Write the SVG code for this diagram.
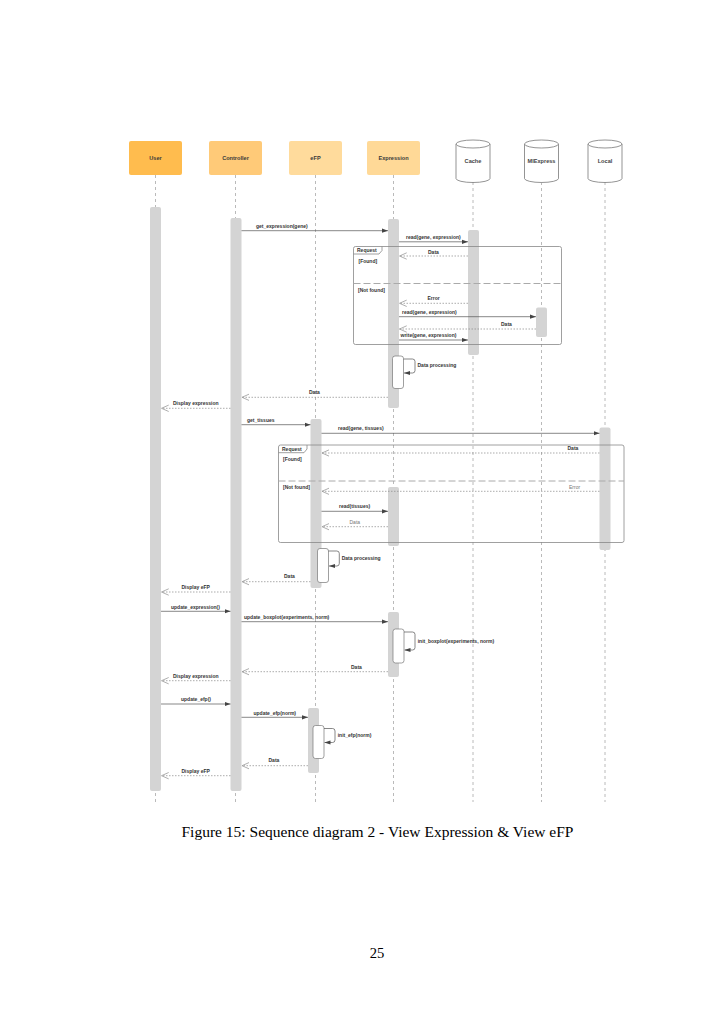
<svg xmlns="http://www.w3.org/2000/svg" width="724" height="1024" viewBox="0 0 724 1024">
<style>
.hdr{stroke:none}
.ht{font-family:"Liberation Sans",Arial,sans-serif;font-size:5.6px;font-weight:bold;fill:#3a3a3a;text-anchor:middle}
.ct{font-family:"Liberation Sans",Arial,sans-serif;font-size:5.6px;font-weight:bold;fill:#444;text-anchor:middle}
.life{stroke:#a8a8a8;stroke-width:0.8;stroke-dasharray:3,3;fill:none}
.bar{fill:#d4d4d4;stroke:none}
.self{fill:#fff;stroke:#777;stroke-width:0.7}
.msg{stroke:#555;stroke-width:0.7;fill:none;marker-end:url(#ah)}
.ret{stroke:#888;stroke-width:0.7;stroke-dasharray:1.5,1.5;fill:none;marker-end:url(#oh)}
.lbl{font-family:"Liberation Sans",Arial,sans-serif;font-size:5px;font-weight:bold;fill:#333}
.lg{font-family:"Liberation Sans",Arial,sans-serif;font-size:5px;fill:#777}
.frame{fill:none;stroke:#888;stroke-width:0.8}
.sep{stroke:#aaa;stroke-width:1;stroke-dasharray:7,3;fill:none}
.cyl{fill:#fff;stroke:#666;stroke-width:0.7}
.cap{font-family:"Liberation Serif","Times New Roman",serif;font-size:14.6px;fill:#000}
</style>
<defs>
<marker id="ah" viewBox="0 0 10 10" refX="10" refY="5" markerWidth="6" markerHeight="6" markerUnits="userSpaceOnUse" orient="auto">
<path d="M0,1.5 L10,5 L0,8.5 Z" fill="#444"/>
</marker>
<marker id="oh" viewBox="0 0 10 10" refX="9" refY="5" markerWidth="8" markerHeight="8" markerUnits="userSpaceOnUse" orient="auto">
<path d="M0,1 L9,5 L0,9" fill="none" stroke="#999" stroke-width="1"/>
</marker>
</defs>
<rect width="724" height="1024" fill="#fff"/>

<g id="lifelines">
<line class="life" x1="155.5" y1="175" x2="155.5" y2="802"/>
<line class="life" x1="235.5" y1="175" x2="235.5" y2="802"/>
<line class="life" x1="315.5" y1="175" x2="315.5" y2="802"/>
<line class="life" x1="393.5" y1="175" x2="393.5" y2="802"/>
<line class="life" x1="473" y1="182" x2="473" y2="802"/>
<line class="life" x1="541.5" y1="182" x2="541.5" y2="802"/>
<line class="life" x1="605" y1="182" x2="605" y2="802"/>
</g>

<g id="user">
<rect class="hdr" x="129" y="141" width="53" height="34" rx="2" fill="#ffbc4e"/>
<text class="ht" x="155.5" y="159.5">User</text>
<rect class="bar" x="150" y="207" width="11" height="584" rx="2"/>
</g>
<g id="controller">
<rect class="hdr" x="209" y="141" width="53" height="34" rx="2" fill="#ffca78"/>
<text class="ht" x="235.5" y="159.5">Controller</text>
<rect class="bar" x="230.5" y="218" width="11" height="573" rx="2"/>
</g>
<g id="efp">
<rect class="hdr" x="289" y="141" width="53" height="34" rx="2" fill="#ffdb9c"/>
<text class="ht" x="315.5" y="159.5">eFP</text>
<rect class="bar" x="310.5" y="419" width="11" height="169" rx="2"/>
<rect class="bar" x="308" y="708" width="11" height="65" rx="2"/>
</g>
<g id="expression">
<rect class="hdr" x="367" y="141" width="53" height="34" rx="2" fill="#ffd997"/>
<text class="ht" x="393.5" y="159.5">Expression</text>
<rect class="bar" x="388" y="219" width="11" height="189" rx="2"/>
<rect class="bar" x="388" y="487" width="11" height="59" rx="2"/>
<rect class="bar" x="388" y="612" width="11" height="65" rx="2"/>
</g>
<g id="cache">
<path class="cyl" d="M456,144 V178.5 A17,4 0 0 0 490,178.5 V144"/>
<ellipse class="cyl" cx="473" cy="144" rx="17" ry="4"/>
<text class="ct" x="473" y="163">Cache</text>
<rect class="bar" x="468" y="230" width="11" height="125" rx="2"/>
</g>
<g id="miexpress">
<path class="cyl" d="M524.5,144 V178.5 A17,4 0 0 0 558.5,178.5 V144"/>
<ellipse class="cyl" cx="541.5" cy="144" rx="17" ry="4"/>
<text class="ct" x="541.5" y="163">MIExpress</text>
<rect class="bar" x="536" y="307.5" width="11" height="29.5" rx="2"/>
</g>
<g id="local">
<path class="cyl" d="M588,144 V178.5 A17,4 0 0 0 622,178.5 V144"/>
<ellipse class="cyl" cx="605" cy="144" rx="17" ry="4"/>
<text class="ct" x="605" y="163">Local</text>
<rect class="bar" x="599.5" y="427.5" width="11" height="122.5" rx="2"/>
</g>

<g id="frame1">
<rect class="frame" x="353.5" y="246.5" width="208" height="98" rx="2"/>
<path class="frame" d="M353.5,254 H379 L382,250.5 V246.5"/>
<text class="lbl" x="357" y="251.8">Request</text>
<text class="lbl" x="358.5" y="263">[Found]</text>
<line class="sep" x1="353.5" y1="283.5" x2="561.5" y2="283.5"/>
<text class="lbl" x="358" y="291.8">[Not found]</text>
</g>
<g id="frame2">
<rect class="frame" x="278.5" y="445" width="345.5" height="97.5" rx="2"/>
<path class="frame" d="M278.5,452.7 H304 L307,449 V445"/>
<text class="lbl" x="282" y="450.5">Request</text>
<text class="lbl" x="283" y="461">[Found]</text>
<line class="sep" x1="278.5" y1="481" x2="624" y2="481"/>
<text class="lbl" x="283" y="488.5">[Not found]</text>
</g>

<g id="selfcalls">
<rect class="self" x="392.5" y="356" width="11" height="32.5" rx="2.5"/>
<path class="msg" d="M403.5,359 H412.5 Q415,359 415,361.5 V370.5 Q415,373 412.5,373 H404"/>
<rect class="self" x="317.5" y="548.5" width="11" height="34" rx="2.5"/>
<path class="msg" d="M328.5,551 H336.8 Q339.3,551 339.3,553.5 V563.5 Q339.3,566 336.8,566 H329"/>
<rect class="self" x="393" y="629" width="11" height="34" rx="2.5"/>
<path class="msg" d="M404,632 H412.5 Q415,632 415,634.5 V647.5 Q415,650 412.5,650 H404.5"/>
<rect class="self" x="313" y="725.5" width="11" height="33" rx="2.5"/>
<path class="msg" d="M324,728.5 H332.5 Q335,728.5 335,731 V740 Q335,742.5 332.5,742.5 H324.5"/>
</g>

<g id="connectors">
<line class="msg" x1="241.5" y1="230.7" x2="388" y2="230.7"/>
<line class="msg" x1="399" y1="241.8" x2="468" y2="241.8"/>
<line class="ret" x1="468" y1="256" x2="399.5" y2="256"/>
<line class="ret" x1="468" y1="303.3" x2="399.5" y2="303.3"/>
<line class="msg" x1="399" y1="316.7" x2="536" y2="316.7"/>
<line class="ret" x1="536" y1="329" x2="399.5" y2="329"/>
<line class="msg" x1="399" y1="340" x2="468" y2="340"/>
<line class="ret" x1="388" y1="397.3" x2="242" y2="397.3"/>
<line class="ret" x1="230.5" y1="408.3" x2="161.5" y2="408.3"/>
<line class="msg" x1="241.5" y1="424.7" x2="310.5" y2="424.7"/>
<line class="msg" x1="321.5" y1="433.3" x2="599.5" y2="433.3"/>
<line class="ret" x1="599.5" y1="453" x2="322" y2="453"/>
<line class="ret" x1="599.5" y1="491.3" x2="322" y2="491.3"/>
<line class="msg" x1="321.5" y1="511.3" x2="388" y2="511.3"/>
<line class="ret" x1="388" y1="526.7" x2="322" y2="526.7"/>
<line class="ret" x1="310.5" y1="581.7" x2="242" y2="581.7"/>
<line class="ret" x1="230.5" y1="592" x2="161.5" y2="592"/>
<line class="msg" x1="161" y1="611.3" x2="230.5" y2="611.3"/>
<line class="msg" x1="241.5" y1="621.7" x2="388" y2="621.7"/>
<line class="ret" x1="388" y1="671.7" x2="242" y2="671.7"/>
<line class="ret" x1="230.5" y1="680.7" x2="161.5" y2="680.7"/>
<line class="msg" x1="161" y1="704" x2="230.5" y2="704"/>
<line class="msg" x1="241.5" y1="717.3" x2="308" y2="717.3"/>
<line class="ret" x1="308" y1="765.7" x2="242" y2="765.7"/>
<line class="ret" x1="230.5" y1="775.7" x2="161.5" y2="775.7"/>
</g>

<g id="labels">
<text class="lbl" x="256" y="227.5">get_expression(gene)</text>
<text class="lbl" x="406" y="238.5">read(gene, expression)</text>
<text class="lbl" x="428" y="253.5">Data</text>
<text class="lbl" x="427.5" y="300">Error</text>
<text class="lbl" x="402" y="313.5">read(gene, expression)</text>
<text class="lbl" x="501" y="326">Data</text>
<text class="lbl" x="400.5" y="336.8">write(gene, expression)</text>
<text class="lbl" x="417.5" y="366.8">Data processing</text>
<text class="lbl" x="309" y="394">Data</text>
<text class="lbl" x="173" y="405">Display expression</text>
<text class="lbl" x="247" y="421.8">get_tissues</text>
<text class="lbl" x="338" y="429.5">read(gene, tissues)</text>
<text class="lbl" x="567.5" y="450">Data</text>
<text class="lg" x="569" y="488.5">Error</text>
<text class="lbl" x="339" y="507.8">read(tissues)</text>
<text class="lg" x="349.5" y="523.5">Data</text>
<text class="lbl" x="341.7" y="559.5">Data processing</text>
<text class="lbl" x="284" y="577.8">Data</text>
<text class="lbl" x="181.5" y="588.5">Display eFP</text>
<text class="lbl" x="171" y="608.8">update_expression()</text>
<text class="lbl" x="244" y="619">update_boxplot(experiments, norm)</text>
<text class="lbl" x="417.7" y="642.5">init_boxplot(experiments, norm)</text>
<text class="lbl" x="351" y="668.5">Data</text>
<text class="lbl" x="173" y="677.5">Display expression</text>
<text class="lbl" x="181" y="701">update_efp()</text>
<text class="lbl" x="253.5" y="714.5">update_efp(norm)</text>
<text class="lbl" x="337.7" y="736.8">init_efp(norm)</text>
<text class="lbl" x="268.5" y="761.8">Data</text>
<text class="lbl" x="181.5" y="772.5">Display eFP</text>
</g>

<g id="caption">
<text class="cap" x="181.5" y="836.5" textLength="392" lengthAdjust="spacingAndGlyphs">Figure 15: Sequence diagram 2 - View Expression &amp; View eFP</text>
<text class="cap" x="377" y="958" text-anchor="middle">25</text>
</g>
</svg>
